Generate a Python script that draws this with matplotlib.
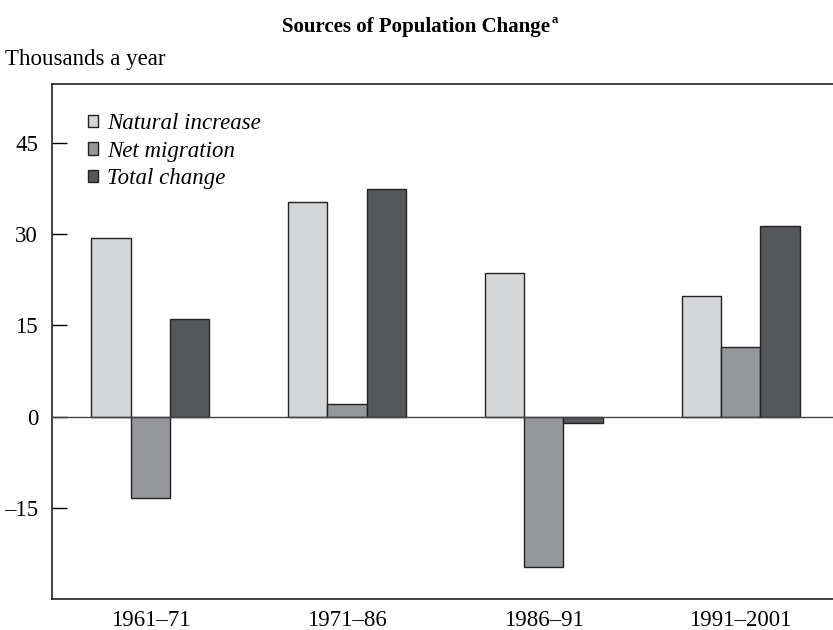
import numpy as np
import matplotlib.pyplot as plt
from matplotlib.patches import Patch

periods = ['1961–71', '1971–86', '1986–91', '1991–2001']
natural_increase = [29.3, 35.3, 23.6, 19.9]
net_migration = [-13.4, 2.0, -24.8, 11.4]
total_change = [16.1, 37.4, -1.0, 31.4]
series_names = ['Natural increase', 'Net migration', 'Total change']
y_ticks = [-15, 0, 15, 30, 45]
y_labels = ['–15', '0', '15', '30', '45']

plt.rcParams['font.family'] = ['Liberation Serif', 'DejaVu Serif']

colors = ['#d4d5d7', '#95979a', '#55575a']
series = [natural_increase, net_migration, total_change]

fig = plt.figure(figsize=(8.33, 6.3), dpi=100)
ax = fig.add_axes([0.0624, 0.0492, 0.9376, 0.8175])

x = np.arange(len(periods))
width = 0.2
for idx, vals in enumerate(series):
    ax.bar(x + (idx - 1) * width, vals, width, color=colors[idx],
           edgecolor='#222222', linewidth=1.0, zorder=3)

ax.axhline(0, color='#444444', linewidth=1.0, zorder=4)

ax.set_xlim(-0.5, 3.47)
ax.set_ylim(-30, 54.7)
ax.set_yticks(y_ticks)
ax.set_yticklabels(y_labels)
ax.set_xticks(x)
ax.set_xticklabels(periods)
ax.tick_params(axis='y', direction='in', length=11, width=1, labelsize=16.5, pad=10)
ax.tick_params(axis='x', length=0, labelsize=16.5, pad=8)
ax.spines['right'].set_visible(False)
for s in ['left', 'bottom', 'top']:
    ax.spines[s].set_linewidth(1.2)
    ax.spines[s].set_color('#222222')

handles = [Patch(facecolor=colors[i], edgecolor='#222222', linewidth=1.0) for i in range(3)]
leg = ax.legend(handles, series_names, loc='upper left', bbox_to_anchor=(0.034, 0.961),
                frameon=False,
                prop={'family': 'Liberation Serif', 'style': 'italic', 'size': 16.5},
                handlelength=0.45, handleheight=0.45, handletextpad=0.4,
                labelspacing=0.28, borderaxespad=0)

fig.text(0.5, 0.957, 'Sources of Population Change', ha='center', va='center',
         fontsize=15, fontweight='bold')
fig.text(0.6625, 0.968, 'a', ha='left', va='center', fontsize=9, fontweight='bold')
fig.text(0.006, 0.905, 'Thousands a year', ha='left', va='center', fontsize=16.5)

fig.savefig('out.png', dpi=100)
